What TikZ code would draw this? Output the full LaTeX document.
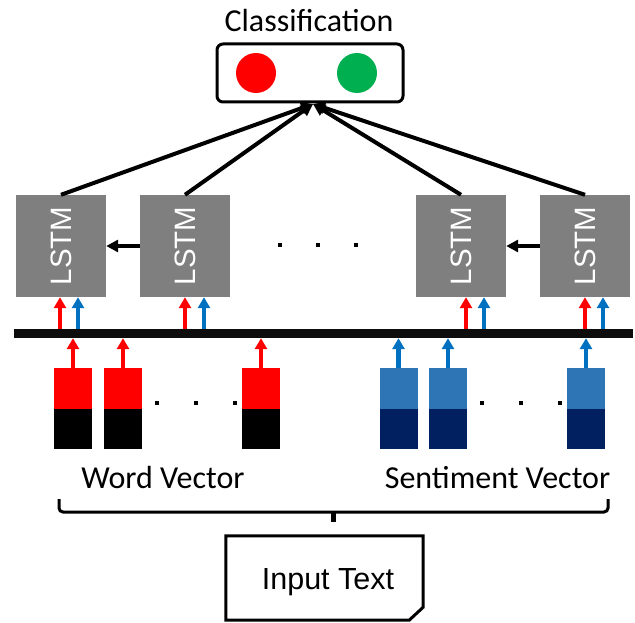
\documentclass[tikz,border=0pt]{standalone}
\usepackage{fontspec}
\usepackage{graphicx}
\setmainfont{Carlito}
\newfontfamily\arialfont{Liberation Sans}
\usetikzlibrary{arrows.meta,calc}

\definecolor{lstmgray}{HTML}{7F7F7F}
\definecolor{vecred}{HTML}{FF0000}
\definecolor{veclight}{HTML}{2E75B6}
\definecolor{vecdark}{HTML}{002060}
\definecolor{arrowblue}{HTML}{0070C0}
\definecolor{okgreen}{HTML}{00B050}

\begin{document}
\begin{tikzpicture}[x=1pt,y=-1pt,
  lstmbox/.style={rectangle, fill=lstmgray, minimum width=90pt, minimum height=102pt,
    inner sep=0pt, text=white, font=\arialfont\fontsize{29.5}{30}\selectfont},
  clsbox/.style={rectangle, rounded corners=6pt, draw=black, line width=3pt,
    minimum width=186pt, minimum height=58pt, inner sep=0pt},
  blob/.style={circle, minimum size=40pt, inner sep=0pt},
  vecpart/.style={rectangle, minimum width=38pt, minimum height=40.5pt, inner sep=0pt},
  lbl/.style={font=\fontsize{32}{32}\selectfont, inner sep=0pt, anchor=base},
  blkarrow/.style={draw=black, line width=4pt, -{Triangle[length=12pt,width=12pt]}},
  redup/.style={draw=vecred, line width=4.5pt, -{Triangle[length=11pt,width=12pt]}},
  blueup/.style={draw=arrowblue, line width=4.5pt, -{Triangle[length=11pt,width=12pt]}},
  pt/.style={rectangle, fill=black, minimum size=4.5pt, inner sep=0pt}
]
\useasboundingbox (0,0) rectangle (635,623);

% classification output
\node[lbl] (title) at (309,32) {Classification};
\node[clsbox] (cls) at (310,73) {};
\node[blob, fill=vecred] (negc) at (256,73) {};
\node[blob, fill=okgreen] (posc) at (357,73) {};
\coordinate (conv) at (313,104);

% LSTM cells
\node[lstmbox] (l1) at (61,246) {\rotatebox{90}{LSTM}};
\node[lstmbox] (l2) at (185,246) {\rotatebox{90}{LSTM}};
\node[lstmbox] (l3) at (461,246) {\rotatebox{90}{LSTM}};
\node[lstmbox] (l4) at (585,246) {\rotatebox{90}{LSTM}};

\draw[blkarrow] (l2.west) -- (l1.east);
\draw[blkarrow] (l4.west) -- (l3.east);
\foreach \n in {l1,l2,l3,l4} \draw[blkarrow] (\n.north) -- (conv);

\node[pt] (d1) at (280,245) {};
\node[pt] (d2) at (318,245) {};
\node[pt] (d3) at (356,245) {};

% shared input bar
\node[rectangle, fill=black!95, minimum width=619pt, minimum height=9pt, inner sep=0pt] (bar) at (323.5,333.5) {};

% inputs of each cell
\foreach \n/\ro/\bo in {l1/-1/17, l2/0/19, l3/5/23, l4/0/18} {
  \coordinate (\n r) at ([xshift=\ro pt]\n.south);
  \coordinate (\n b) at ([xshift=\bo pt]\n.south);
  \draw[redup] (\n r |- bar.north) -- (\n r);
  \draw[blueup] (\n b |- bar.north) -- (\n b);
}

% word vectors
\foreach \n/\x in {w1/73, w2/123, w3/261} {
  \node[vecpart, fill=vecred] (\n t) at (\x,388.5) {};
  \node[vecpart, fill=black] (\n b) at (\x,429) {};
  \draw[redup] (\n t.north) -- (\n t.north |- bar.south);
}
% sentiment vectors
\foreach \n/\x in {s1/398.5, s2/448, s3/586} {
  \node[vecpart, fill=veclight] (\n t) at (\x,388.5) {};
  \node[vecpart, fill=vecdark] (\n b) at (\x,429) {};
  \draw[blueup] (\n t.north) -- (\n t.north |- bar.south);
}

\node[pt] (e1) at (157,403) {};
\node[pt] (e2) at (196,403) {};
\node[pt] (e3) at (235,403) {};
\node[pt] (f1) at (482,403) {};
\node[pt] (f2) at (521,403) {};
\node[pt] (f3) at (560,403) {};

\node[lbl] (wv) at (163,488) {Word Vector};
\node[lbl] (sv) at (497.5,488) {Sentiment Vector};

% brace gathering both vectors
\coordinate (bl) at (59,499);
\coordinate (br) at (608,499);
\coordinate (bm) at (333,512);
\coordinate (btip) at (333,522);
\draw[line width=3pt, rounded corners=4pt] (bl) -- (bl |- bm) -- (br |- bm) -- (br);
\draw[line width=5pt] (bm) -- (btip);

% input text document
\node[rectangle, minimum width=197pt, minimum height=84pt, inner sep=0pt] (inp) at (324.5,578) {};
\draw[line width=3pt, line join=miter]
  (inp.north west) -- (inp.north east) -- ($(inp.south east)+(0,-13)$)
  -- ($(inp.south east)+(-14,0)$) -- (inp.south west) -- cycle;
\node[inner sep=0pt, anchor=base] (inptxt) at (328,589) {\arialfont\fontsize{30.5}{31}\selectfont Input Text};
\end{tikzpicture}
\end{document}
